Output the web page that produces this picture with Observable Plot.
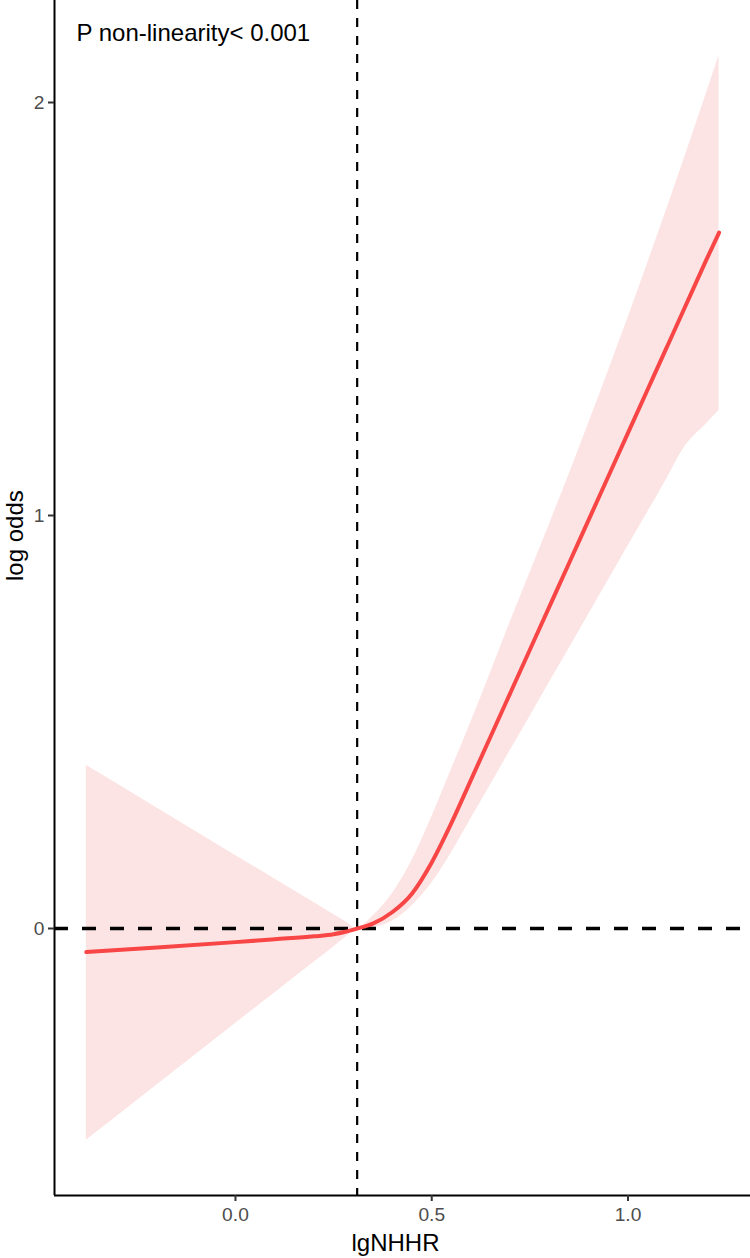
<!DOCTYPE html>
<html><head><meta charset="utf-8">
<script src="https://cdn.jsdelivr.net/npm/d3@7"></script>
<script src="https://cdn.jsdelivr.net/npm/@observablehq/plot@0.6"></script>
<style>
html,body{margin:0;padding:0;background:#fff} svg{display:block}
g[aria-label="x-axis tick label"], g[aria-label="y-axis tick label"]{font-size:19.2px !important;}
g[aria-label="x-axis tick label"] text, g[aria-label="y-axis tick label"] text{font-size:19.2px !important;}
</style>
</head><body><div id="chart"></div>
<script>
// lgNHHR grid and fitted log odds with 95% CI
const xs    = [-0.38, -0.2, 0.0, 0.1, 0.2, 0.25, 0.28, 0.31, 0.35, 0.40, 0.45, 0.50, 0.55, 0.60, 0.65, 0.70, 0.75, 0.80, 0.85, 0.90, 0.95, 1.00, 1.05, 1.10, 1.14, 1.20, 1.232];
const fit   = [-0.057, -0.046, -0.033, -0.026, -0.019, -0.014, -0.008, 0, 0.012, 0.040, 0.085, 0.160, 0.255, 0.360, 0.465, 0.570, 0.675, 0.780, 0.885, 0.990, 1.095, 1.200, 1.305, 1.410, 1.494, 1.620, 1.685];
const upper = [0.395, 0.292, 0.177, 0.120, 0.063, 0.034, 0.017, 0, 0.03, 0.085, 0.165, 0.27, 0.385, 0.50, 0.62, 0.742, 0.861, 0.979, 1.100, 1.224, 1.350, 1.479, 1.611, 1.745, 1.855, 2.023, 2.114];
const lower = [-0.513, -0.379, -0.230, -0.156, -0.082, -0.045, -0.022, 0, 0.002, 0.018, 0.055, 0.11, 0.183, 0.266, 0.348, 0.431, 0.513, 0.596, 0.678, 0.761, 0.843, 0.926, 1.008, 1.091, 1.160, 1.222, 1.254];

const refX = 0.31;
const refY = 0;
const xTicks = [0, 0.5, 1.0];
const xTickLabels = ["0.0", "0.5", "1.0"];
const yTicks = [0, 1, 2];
const yTickLabels = ["0", "1", "2"];
const xTitle = "lgNHHR";
const yTitle = "log odds";
const annotation = "P non-linearity< 0.001";
const xDomain = [-0.461, 1.312];
const yDomain = [-0.6465, 2.247];

const rows = xs.map((x, i) => ({x, fit: fit[i], lo: lower[i], hi: upper[i]}));
const font = "'Liberation Sans', Arial, Helvetica, sans-serif";

const chart = Plot.plot({
  width: 750,
  height: 1258,
  marginLeft: 54,
  marginRight: 0,
  marginTop: 0,
  marginBottom: 63,
  style: {fontFamily: font, fontSize: "19.2px", background: "#fff", color: "black"},
  x: {domain: xDomain},
  y: {domain: yDomain},
  marks: [
    Plot.areaY(rows, {x: "x", y1: "lo", y2: "hi", fill: "#fde4e4", curve: "monotone-x"}),
    Plot.ruleY([refY], {stroke: "black", strokeWidth: 3.5, strokeDasharray: "14,14"}),
    Plot.ruleX([refX], {stroke: "black", strokeWidth: 2.2, strokeDasharray: "9,9"}),
    Plot.line(rows, {x: "x", y: "fit", stroke: "#f84545", strokeWidth: 4, curve: "monotone-x"}),
    Plot.ruleX([xDomain[0]], {stroke: "black", strokeWidth: 2}),
    Plot.ruleY([yDomain[0]], {stroke: "black", strokeWidth: 2}),
    Plot.axisY(yTicks, {anchor: "left", tickSize: 6, tickPadding: 4, strokeWidth: 2, stroke: "#333", fill: "#4d4d4d", fontSize: 19.2, tickFormat: d => yTickLabels[yTicks.indexOf(d)], label: null}),
    Plot.axisX(xTicks, {anchor: "bottom", tickSize: 6, tickPadding: 6, strokeWidth: 2, stroke: "#333", fill: "#4d4d4d", fontSize: 19.2, tickFormat: d => xTickLabels[xTicks.indexOf(d)], label: null}),
    Plot.text([annotation], {text: d => d, frameAnchor: "top-left", dx: 22, dy: 23, lineAnchor: "top", textAnchor: "start", fontSize: 24, fill: "black"}),
    Plot.text([xTitle], {text: d => d, frameAnchor: "bottom", dx: -7, dy: 48, lineAnchor: "middle", fontSize: 24, fill: "black"}),
    Plot.text([yTitle], {text: d => d, frameAnchor: "left", rotate: -90, dx: -39, dy: -17, lineAnchor: "middle", fontSize: 24, fill: "black"})
  ]
});
document.getElementById("chart").appendChild(chart);
</script>
</body></html>
